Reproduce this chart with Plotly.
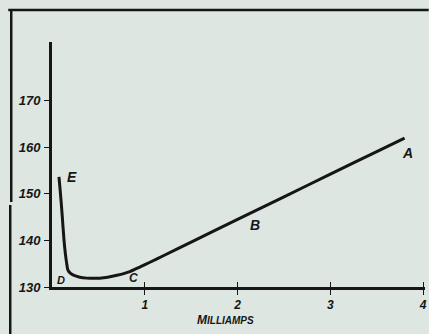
import plotly.graph_objects as go

# Plate current (milliamps) against grid reading
milliamps = [0.075, 0.09, 0.11, 0.129, 0.145, 0.158, 0.172, 0.20, 0.225, 0.30, 0.375,
             0.45, 0.515, 0.60, 0.70, 0.84, 0.95, 1.05, 1.20, 1.50, 2.00, 2.50, 3.00,
             3.50, 3.80]
reading = [153.6, 150.3, 145.3, 140.1, 137.0, 135.1, 133.6, 132.9, 132.6, 132.1, 131.9,
           131.85, 131.9, 132.1, 132.5, 133.3, 134.3, 135.25, 136.7, 139.6, 144.5, 149.3,
           154.2, 159.0, 161.9]

x_ticks = [1, 2, 3, 4]
y_ticks = [130, 140, 150, 160, 170]

# Point letters along the curve
point_names = ["A", "B", "C", "D", "E"]
point_x = [3.83, 2.19, 0.88, 0.10, 0.215]
point_y = [158.8, 143.3, 131.9, 131.5, 153.6]
point_size = [14, 14, 12, 11, 14]

paper = "#dde6e0"
ink = "#161616"
font_family = "Liberation Sans, Arial, sans-serif"

fig = go.Figure()
fig.add_trace(go.Scatter(
    x=milliamps, y=reading, mode="lines",
    line=dict(color=ink, width=3, shape="spline", smoothing=0.7),
    hoverinfo="skip", showlegend=False,
))
# invisible trace on the overlay axis so its ticks are drawn
fig.add_trace(go.Scatter(x=[0], y=[130], xaxis="x2", mode="markers",
                         marker=dict(opacity=0), hoverinfo="skip", showlegend=False))

for name, px, py, fs in zip(point_names, point_x, point_y, point_size):
    fig.add_annotation(x=px, y=py, text=f"<b><i>{name}</i></b>", showarrow=False,
                       font=dict(family=font_family, size=fs, color=ink))

fig.add_annotation(x=1.87, y=-0.135, xref="x", yref="paper", yanchor="middle",
                   showarrow=False,
                   text="<b><i>M<span style='font-size:10px'>ILLIAMPS</span></i></b>",
                   font=dict(family=font_family, size=12, color=ink))

# outer frame of the plate
frame = dict(color=ink, width=2.5)
fig.add_shape(type="line", xref="paper", yref="paper",
              x0=-0.1173, x1=1.01, y0=1.1306, y1=1.1306, line=frame)
fig.add_shape(type="line", xref="paper", yref="paper",
              x0=-0.1093, x1=-0.1093, y0=1.1306, y1=0.3469, line=frame)
fig.add_shape(type="line", xref="paper", yref="paper",
              x0=-0.1120, x1=-0.1120, y0=0.3347, y1=-0.20, line=frame)

fig.update_layout(
    width=429, height=334,
    margin=dict(l=52, r=2, t=42, b=47),
    paper_bgcolor=paper, plot_bgcolor=paper,
    font=dict(family=font_family, color=ink),
    xaxis=dict(range=[0, 4.02], tickvals=x_ticks, ticktext=[str(v) for v in x_ticks],
               showgrid=False, zeroline=False, showline=True, linecolor=ink, linewidth=3,
               ticks="outside", ticklen=5, tickwidth=1.2, tickcolor=ink,
               ticklabelstandoff=0,
               tickfont=dict(family=font_family, size=12, color=ink, style="italic",
                             weight="bold")),
    xaxis2=dict(range=[0, 4.02], overlaying="x", side="bottom", anchor="y",
                tickvals=x_ticks, showticklabels=False, showgrid=False, zeroline=False,
                showline=False, ticks="inside", ticklen=5, tickwidth=1.2, tickcolor=ink),
    yaxis=dict(range=[130, 182.5], tickvals=y_ticks, ticktext=[str(v) for v in y_ticks],
               showgrid=False, zeroline=False, showline=True, linecolor=ink, linewidth=3,
               ticks="outside", ticklen=5, tickwidth=1.2, tickcolor=ink,
               ticklabelstandoff=1,
               tickfont=dict(family=font_family, size=13, color=ink, style="italic",
                             weight="bold")),
)

fig.write_html("out.html")
